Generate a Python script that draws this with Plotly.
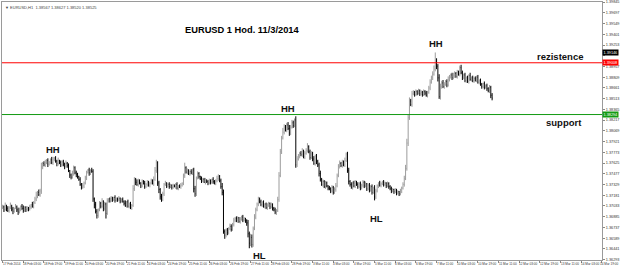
import plotly.graph_objects as go

# Hourly closes in pips (1.3702 -> 13702)
closes = [
    13702,13698,13704,13700,13697,13701,13703,13699,13696,13700,
    13702,13698,13695,13699,13703,13700,13697,13701,13698,13700,
    13699,13702,13705,13703,13708,13713,13718,13722,13719,13724,
    13757,13762,13760,13763,13766,13761,13764,13767,13763,13768,
    13769,13765,13762,13766,13763,13760,13764,13761,13758,13762,
    13759,13752,13746,13743,13748,13756,13749,13747,13744,13740,
    13733,13729,13731,13735,13742,13750,13753,13749,13752,13751,
    13713,13705,13696,13690,13698,13707,13703,13710,13700,13706,
    13693,13711,13713,13710,13714,13712,13715,13711,13713,13712,
    13714,13710,13712,13709,13707,13704,13709,13703,13706,13701,
    13704,13727,13740,13736,13733,13738,13735,13731,13737,13734,
    13730,13733,13736,13732,13735,13738,13734,13740,13752,13763,
    13735,13726,13716,13712,13720,13733,13735,13731,13733,13730,
    13732,13729,13731,13730,13733,13728,13731,13730,13732,13734,
    13745,13756,13750,13752,13748,13751,13749,13753,13727,13720,
    13742,13748,13744,13741,13738,13740,13736,13739,13737,13735,
    13738,13736,13740,13737,13735,13738,13741,13744,13738,13730,
    13722,13668,13663,13670,13667,13672,13675,13671,13678,13684,
    13686,13683,13687,13682,13685,13688,13684,13686,13683,13680,
    13665,13652,13660,13650,13672,13688,13698,13706,13713,13709,
    13705,13708,13703,13706,13701,13704,13707,13702,13705,13700,
    13698,13695,13697,13712,13745,13778,13797,13805,13812,13808,
    13815,13810,13804,13812,13818,13814,13822,13760,13768,13772,
    13776,13774,13779,13771,13776,13780,13785,13778,13770,13775,
    13768,13762,13772,13765,13760,13748,13740,13733,13737,13730,
    13735,13731,13728,13727,13724,13729,13722,13726,13731,13745,
    13758,13762,13759,13764,13760,13766,13775,13752,13737,13733,
    13729,13735,13731,13737,13733,13730,13734,13728,13732,13736,
    13731,13734,13727,13732,13725,13730,13722,13728,13716,13724,
    13731,13735,13732,13734,13736,13733,13735,13731,13734,13730,
    13727,13724,13726,13723,13725,13721,13723,13720,13724,13728,
    13733,13741,13755,13790,13825,13848,13843,13858,13860,13857,
    13861,13859,13862,13858,13860,13857,13861,13859,13856,13860,
    13866,13874,13880,13885,13892,13903,13896,13880,13854,13868,
    13873,13868,13871,13875,13870,13878,13881,13884,13880,13883,
    13886,13882,13888,13885,13894,13887,13881,13884,13876,13880,
    13875,13883,13878,13880,13876,13879,13877,13881,13874,13876,
    13871,13868,13872,13867,13869,13865,13862,13867,13856,13852,
]
first_open = 13701

# upper / lower wick lengths in pips
up_wick = [
    3,2,4,1,3,2,5,2,3,1,4,2,3,2,1,3,4,2,2,3,
    2,3,1,4,2,3,5,2,4,3,6,2,3,4,2,3,1,2,4,3,
    2,3,2,4,1,3,2,3,2,4,2,3,1,2,4,3,2,3,2,1,
    3,2,4,2,3,2,1,3,2,4,3,2,4,3,2,3,2,4,1,3,
    2,3,1,2,3,2,1,3,2,2,3,1,2,3,2,4,1,3,2,3,
    2,5,3,2,4,3,2,1,3,2,4,2,3,2,1,3,2,4,5,4,
    2,3,2,4,3,2,3,1,2,3,2,1,3,2,2,3,1,2,3,2,
    3,7,2,3,2,1,3,2,3,4,2,3,2,1,3,2,2,3,1,2,
    3,2,1,3,2,2,4,3,2,3,5,4,3,2,3,2,4,3,2,3,
    2,3,2,1,3,2,3,2,1,2,4,3,5,4,3,4,3,2,3,2,
    3,2,3,1,2,3,2,1,3,2,2,3,2,4,5,4,3,6,4,3,
    3,4,5,3,4,3,2,5,4,3,2,3,4,2,3,3,5,2,3,4,
    3,4,2,3,2,3,4,2,3,2,3,2,1,3,2,3,2,3,4,3,
    3,4,2,3,2,4,2,3,4,2,3,2,3,2,1,3,2,3,2,3,
    2,3,1,2,3,2,3,2,4,3,2,1,3,2,2,3,2,1,3,2,
    2,3,2,1,3,2,2,1,3,2,3,4,5,6,4,5,3,4,3,2,
    3,2,3,2,3,2,3,2,3,2,3,4,3,4,5,12,4,3,5,4,
    3,4,3,2,3,4,3,2,3,4,3,2,3,2,3,4,3,2,3,2,
    3,2,4,2,3,2,3,2,3,2,3,2,1,3,2,3,2,3,2,3,
]
down_wick = [
    2,3,1,4,2,3,2,3,4,2,1,3,4,2,3,2,3,2,3,2,
    3,2,3,2,3,2,3,4,2,3,4,3,2,3,2,4,2,3,2,3,
    3,2,4,3,2,3,2,3,4,2,3,2,4,3,2,3,2,4,3,2,
    2,3,2,3,2,3,2,4,3,2,4,5,3,4,3,2,3,2,4,3,
    7,2,3,2,1,3,2,3,2,3,2,3,2,1,3,2,3,2,3,2,
    3,2,3,4,2,3,2,3,2,1,3,2,3,2,3,2,1,3,2,3,
    4,5,4,3,2,3,2,3,2,3,2,3,2,1,3,2,3,2,3,2,
    2,3,2,3,2,3,2,3,5,4,3,2,3,2,3,2,1,3,2,3,
    2,3,2,3,2,3,2,3,2,3,4,3,5,3,4,3,2,3,2,3,
    3,2,3,2,3,2,3,2,3,4,5,7,4,4,3,2,3,2,3,2,
    2,3,2,3,2,3,2,3,2,3,2,3,4,2,3,2,3,2,3,2,
    3,2,4,3,2,3,2,4,3,2,3,2,3,2,3,2,3,2,3,2,
    3,2,3,4,3,4,3,2,3,2,3,2,3,2,3,2,3,2,3,2,
    2,3,2,3,2,3,2,3,4,3,2,3,2,3,2,3,2,3,2,3,
    3,2,3,2,3,2,3,2,5,3,2,3,2,3,2,3,2,3,2,3,
    2,3,2,3,2,3,2,3,2,3,2,3,2,3,4,3,2,3,2,3,
    2,3,2,3,2,3,2,3,2,3,2,3,2,3,2,3,4,5,3,4,
    3,2,3,2,3,2,3,2,3,2,3,2,3,2,3,2,4,3,2,3,
    2,3,2,3,2,3,2,3,2,3,2,3,2,3,2,3,2,3,4,3,
]

resistance = 1.39008
support = 1.38294
marker_price = 1.39146

price_ticks = [1.39845, 1.39697, 1.39549, 1.39401, 1.39253, 1.39105, 1.38957,
               1.38809, 1.38661, 1.38513, 1.38365, 1.38217, 1.38069, 1.37921,
               1.37773, 1.37625, 1.37477, 1.37329, 1.37181, 1.37033, 1.36885,
               1.36737, 1.36589, 1.36441, 1.36293]
hidden_tick = 1.39105   # covered by the black price box

time_labels = ["17 Feb 2014", "18 Feb 03:00", "18 Feb 19:00", "19 Feb 11:00",
               "20 Feb 03:00", "20 Feb 19:00", "21 Feb 11:00", "24 Feb 03:00",
               "24 Feb 19:00", "25 Feb 11:00", "26 Feb 03:00", "26 Feb 19:00",
               "27 Feb 11:00", "28 Feb 03:00", "28 Feb 19:00", "3 Mar 11:00",
               "4 Mar 03:00", "4 Mar 19:00", "5 Mar 11:00", "6 Mar 03:00",
               "6 Mar 19:00", "7 Mar 11:00", "10 Mar 03:00", "10 Mar 19:00",
               "11 Mar 11:00", "12 Mar 03:00", "12 Mar 19:00", "13 Mar 11:00",
               "14 Mar 03:00", "14 Mar 19:00"]
label_step = 16

FONT = "Liberation Sans, Arial, sans-serif"

n = min(len(closes), len(up_wick), len(down_wick))
idx = list(range(n))
c = [v / 10000 for v in closes[:n]]
o = [first_open / 10000] + c[:-1]
h = [max(o[i], c[i]) + up_wick[i] / 10000 for i in range(n)]
l = [min(o[i], c[i]) - down_wick[i] / 10000 for i in range(n)]

fig = go.Figure(go.Ohlc(
    x=idx, open=o, high=h, low=l, close=c,
    increasing=dict(line=dict(color="#9c9c9c", width=1)),
    decreasing=dict(line=dict(color="#000000", width=1)),
    tickwidth=0.3, hoverinfo="skip", showlegend=False,
))

fig.add_hline(y=resistance, line=dict(color="#ff0000", width=1))
fig.add_hline(y=support, line=dict(color="#139a13", width=1))

ann = []
lab_font = dict(family=FONT, size=9.5, color="#111111")
for txt, xi, yp in [("HH", 39.2, 1.37813), ("HH", 220.8, 1.38376), ("HH", 335.4, 1.39269),
                    ("HL", 199.2, 1.36356), ("HL", 289.2, 1.36865)]:
    ann.append(dict(x=xi, y=yp, xref="x", yref="y", text="<b>%s</b>" % txt,
                    showarrow=False, font=lab_font))
ann.append(dict(x=412, y=1.39091, xref="x", yref="y", text="<b>rezistence</b>",
                showarrow=False, xanchor="left", font=lab_font))
ann.append(dict(x=419.5, y=1.38184, xref="x", yref="y", text="<b>support</b>",
                showarrow=False, xanchor="left", font=lab_font))
ann.append(dict(x=0.301, y=0.919, xref="paper", yref="paper",
                text="<b>EURUSD 1 Hod. 11/3/2014</b>", showarrow=False,
                xanchor="left", font=dict(family=FONT, size=9.3, color="#000000")))
ann.append(dict(x=0.002, y=0.997, xref="paper", yref="paper", yanchor="top", xanchor="left",
                text="▼ EURUSD,H1  1.38567 1.38627 1.38520 1.38525", showarrow=False,
                font=dict(family=FONT, size=4, color="#444444")))
last = len(time_labels) - 1
for k, t in enumerate(time_labels):
    ann.append(dict(x=k * label_step, y=0, xref="x", yref="paper", yanchor="top",
                    xanchor="left", text=t, showarrow=False, yshift=-0.5,
                    xshift=(-3 if k == last else -1), borderpad=0,
                    font=dict(family=FONT, size=3.1, color="#333333")))
for val, col in [(marker_price, "#000000"), (resistance, "#ff0000"), (support, "#139a13")]:
    ann.append(dict(x=1, y=val, xref="paper", yref="y", xanchor="left", text="%.5f" % val,
                    showarrow=False, bgcolor=col, borderpad=0.5,
                    font=dict(family=FONT, size=3.8, color="#ffffff")))

fig.update_layout(
    width=620, height=267,
    margin=dict(l=1, r=15, t=1, b=7),
    paper_bgcolor="white", plot_bgcolor="white",
    annotations=ann,
    xaxis=dict(range=[-0.5, 464.1], showgrid=False, zeroline=False,
               rangeslider=dict(visible=False),
               tickvals=[k * label_step for k in range(len(time_labels))],
               ticktext=[""] * len(time_labels), ticks="outside", ticklen=2,
               tickcolor="#888888", showline=True, mirror=True,
               linecolor="#9a9a9a", linewidth=1),
    yaxis=dict(range=[1.36288, 1.39846], side="right", showgrid=False, zeroline=False,
               tickvals=price_ticks,
               ticktext=["" if v == hidden_tick else "%.5f" % v for v in price_ticks],
               ticks="outside", ticklen=2, tickcolor="#888888",
               tickfont=dict(family=FONT, size=3.8, color="#333333"),
               showline=True, mirror=True, linecolor="#9a9a9a", linewidth=1),
)

fig.write_html("out.html")
